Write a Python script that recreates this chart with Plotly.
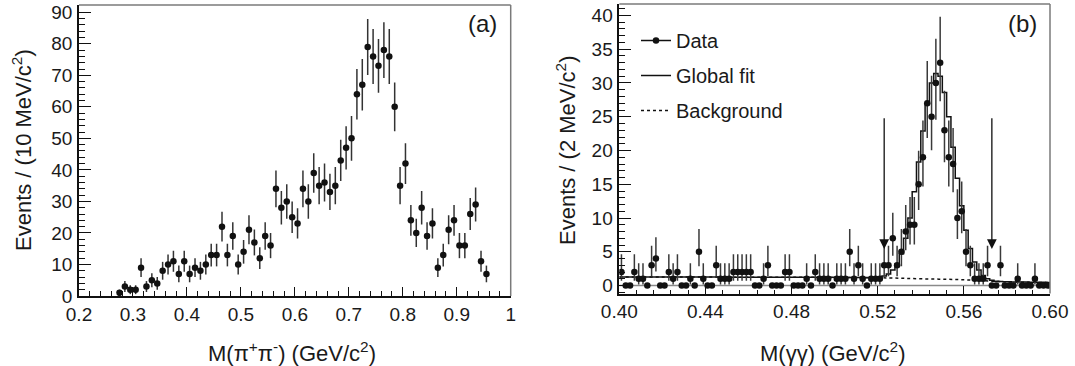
import numpy as np
import plotly.graph_objects as go

# ---------------- Panel (a): M(pi+ pi-) ----------------
mass_a = [round(0.275 + 0.01 * i, 3) for i in range(69)]
events_a = [1, 3, 2, 2, 9, 3, 5, 4, 8, 10, 11, 7, 11, 7, 9, 8, 10, 13, 13, 22,
            13, 19, 10, 14, 21, 17, 12, 19, 16, 34, 28, 30, 25, 23, 34, 30, 39, 35, 36, 33,
            35, 43, 47, 50, 64, 67, 79, 76, 73, 78, 76, 60, 35, 42, 24, 20, 28, 19, 23, 9,
            13, 21, 24, 16, 16, 26, 29, 11, 7]

# ---------------- Panel (b): M(gamma gamma) ----------------
mass_b = [round(0.401 + 0.002 * i, 3) for i in range(100)]
events_b = [2, 0, 0, 2, 1, 1, 0, 3, 4, 0,
            0, 2, 1, 2, 0, 0, 1, 0, 5, 1,
            0, 0, 3, 1, 1, 1, 2, 2, 2, 2,
            2, 0, 0, 1, 3, 0, 0, 0, 2, 2,
            0, 0, 0, 1, 0, 2, 1, 1, 1, 0,
            1, 1, 1, 5, 1, 3, 1, 0, 1, 1,
            1, 3, 3, 7, 3, 5, 8, 9, 9, 15,
            19, 27, 25, 30, 33, 23, 19, 18, 10, 11,
            5, 3, 1, 1, 1, 3, 0, 0, 3, 0,
            0, 0, 1, 0, 0, 0, 1, 0, 0, 0]
fit_edges = [round(0.400 + 0.002 * i, 3) for i in range(101)]
global_fit = [1.25] * 25 + [1.23] * 25 + [
    1.2, 1.2, 1.2, 1.2, 1.2, 1.2, 1.2, 1.2, 1.2, 1.2,
    1.3, 1.4, 1.7, 2.3, 3.2, 4.7, 7.0, 10.0, 13.9, 18.3,
    22.9, 27.0, 30.0, 31.4, 31.0, 28.6, 25.0, 20.5, 15.9, 11.8,
    8.2, 5.5, 3.5, 2.3, 1.5, 1.0, 0.8, 0.65, 0.6, 0.55,
    0.55, 0.54, 0.53, 0.52, 0.51, 0.5, 0.49, 0.48, 0.47, 0.46]
bkg_mass = [0.40, 0.44, 0.48, 0.52, 0.54, 0.56, 0.58, 0.60]
bkg_vals = [1.25, 1.25, 1.22, 1.15, 1.0, 0.85, 0.55, 0.45]
signal_window = [0.523, 0.573]

FONT = "Liberation Sans, Arial, sans-serif"
TXT = "#1a1a1a"
W, H = 1075, 366


def px(x):
    return x / W


def py(y):
    return 1 - y / H


# Poisson (Garwood-like) asymmetric errors for panel (b); empty bins show no bar
def up_err(n):
    if n == 0:
        return 0.0
    m = n + 1
    return m * (1 - 1 / (9 * m) + 1 / (3 * np.sqrt(m))) ** 3 - n


def lo_err(n):
    if n == 0:
        return 0.0
    return n - n * (1 - 1 / (9 * n) - 1 / (3 * np.sqrt(n))) ** 3


err_a = [float(np.sqrt(v)) for v in events_a]
eb_up = [up_err(v) for v in events_b]
eb_lo = [lo_err(v) for v in events_b]

fig = go.Figure()

# Panel (a) data
fig.add_trace(go.Scatter(
    x=mass_a, y=events_a, mode="markers", xaxis="x", yaxis="y",
    marker=dict(color="#111111", size=6.5),
    error_y=dict(type="data", array=err_a, color="#333333", thickness=1.5, width=0),
    showlegend=False, name="M(π+π-)"))

# Panel (b): zero line
fig.add_trace(go.Scatter(
    x=[0.40, 0.60], y=[0, 0], mode="lines", xaxis="x2", yaxis="y2",
    line=dict(color="#8a8a8a", width=1.5), showlegend=False, hoverinfo="skip"))

# Panel (b): background (dotted)
fig.add_trace(go.Scatter(
    x=bkg_mass, y=bkg_vals, mode="lines", xaxis="x2", yaxis="y2",
    line=dict(color="#111111", width=1.5, dash="dot", shape="spline"),
    name="Background", legendgroup="c", legendrank=3))

# Panel (b): global fit (histogram style)
fig.add_trace(go.Scatter(
    x=fit_edges, y=global_fit + [global_fit[-1]], mode="lines", xaxis="x2", yaxis="y2",
    line=dict(color="#111111", width=1.5, shape="hv"),
    name="Global fit", legendgroup="b", legendrank=2))

# Panel (b): data
fig.add_trace(go.Scatter(
    x=mass_b, y=events_b, mode="markers", xaxis="x2", yaxis="y2",
    marker=dict(color="#111111", size=6.5),
    error_y=dict(type="data", symmetric=False, array=eb_up, arrayminus=eb_lo,
                 color="#3a3a3a", thickness=1.5, width=0),
    error_x=dict(type="constant", value=0.001, color="#6a6a6a", thickness=1.2, width=0),
    showlegend=False, name="Data"))

# legend entry for data (marker with line)
fig.add_trace(go.Scatter(
    x=[None], y=[None], mode="lines+markers", xaxis="x2", yaxis="y2",
    marker=dict(color="#111111", size=6.5), line=dict(color="#111111", width=1.5),
    name="Data", legendgroup="a", legendrank=1))

axis_common = dict(
    showgrid=False, zeroline=False, showline=True, linecolor="#111111", linewidth=1.5,
    ticks="inside", tickcolor="#111111", tickwidth=1.2,
    tickfont=dict(family=FONT, size=19, color=TXT),
    mirror=False, automargin=False,
)

layout_axes = dict(
    xaxis=dict(axis_common, domain=[px(79), px(510.7)], range=[0.2, 1.0], dtick=0.1, tick0=0.2,
               ticklen=9, ticklabelstandoff=0, anchor="y",
               minor=dict(dtick=0.02, ticks="inside", ticklen=5, tickcolor="#111111", tickwidth=1)),
    yaxis=dict(axis_common, domain=[py(296), py(5)], range=[0, 92.3], dtick=10, tick0=0,
               ticklen=12, ticklabelstandoff=1, anchor="x",
               minor=dict(dtick=2, ticks="inside", ticklen=6, tickcolor="#111111", tickwidth=1)),
    xaxis2=dict(axis_common, domain=[px(619.3), px(1050)], range=[0.4, 0.6], dtick=0.04, tick0=0.4,
                tickformat=".2f", ticklen=8, ticklabelstandoff=0, anchor="y2",
                minor=dict(dtick=0.008, ticks="inside", ticklen=4, tickcolor="#111111", tickwidth=1)),
    yaxis2=dict(axis_common, domain=[py(293.5), py(4)], range=[-1.18, 41.7], dtick=5, tick0=0,
                ticklen=12, ticklabelstandoff=1, anchor="x2",
                minor=dict(dtick=1, ticks="inside", ticklen=6, tickcolor="#111111", tickwidth=1)),
)

shapes = []
# grey top/right frame lines
for (x0, x1, ytop, yb) in [(79, 510.7, 5, 296), (619.3, 1050, 4, 293.5)]:
    shapes.append(dict(type="line", xref="paper", yref="paper", x0=px(x0), x1=px(x1),
                       y0=py(ytop), y1=py(ytop), line=dict(color="#7a7a7a", width=1.5)))
    shapes.append(dict(type="line", xref="paper", yref="paper", x0=px(x1), x1=px(x1),
                       y0=py(ytop), y1=py(yb), line=dict(color="#7a7a7a", width=1.5)))

annotations = []
# signal window arrows
for cut in signal_window:
    annotations.append(dict(x=cut, y=5.4, ax=cut, ay=25.0, xref="x2", yref="y2",
                            axref="x2", ayref="y2", showarrow=True, arrowhead=2,
                            arrowsize=1.5, arrowwidth=1.3, arrowcolor="#111111", text=""))

title_font = dict(family=FONT, size=22, color=TXT)


def label(text, x, y, font, angle=0):
    return dict(text=text, x=px(x), y=py(y), xref="paper", yref="paper", showarrow=False,
                xanchor="center", yanchor="middle", textangle=angle, font=font)


annotations += [
    label("M(π<sup>+</sup>π<sup>-</sup>) (GeV/c<sup>2</sup>)", 292, 352, title_font),
    label("M(γγ) (GeV/c<sup>2</sup>)", 832, 352, title_font),
    label("Events / (10 MeV/c<sup>2</sup>)", 22, 150, title_font, -90),
    label("Events / (2 MeV/c<sup>2</sup>)", 566, 150, title_font, -90),
    label("(a)", 482, 24, dict(family=FONT, size=24, color=TXT)),
    label("(b)", 1022, 24, dict(family=FONT, size=24, color=TXT)),
]

fig.update_layout(
    width=W, height=H, margin=dict(l=0, r=0, t=0, b=0),
    paper_bgcolor="white", plot_bgcolor="white",
    font=dict(family=FONT, color=TXT),
    showlegend=True,
    legend=dict(x=px(636), y=py(21), xanchor="left", yanchor="top",
                bgcolor="rgba(0,0,0,0)", font=dict(family=FONT, size=20, color=TXT),
                tracegroupgap=6, traceorder="grouped", itemwidth=30),
    shapes=shapes, annotations=annotations,
    **layout_axes,
)

fig.write_html("out.html", config={"displayModeBar": False},
               post_script="document.body.style.margin='0px';")
